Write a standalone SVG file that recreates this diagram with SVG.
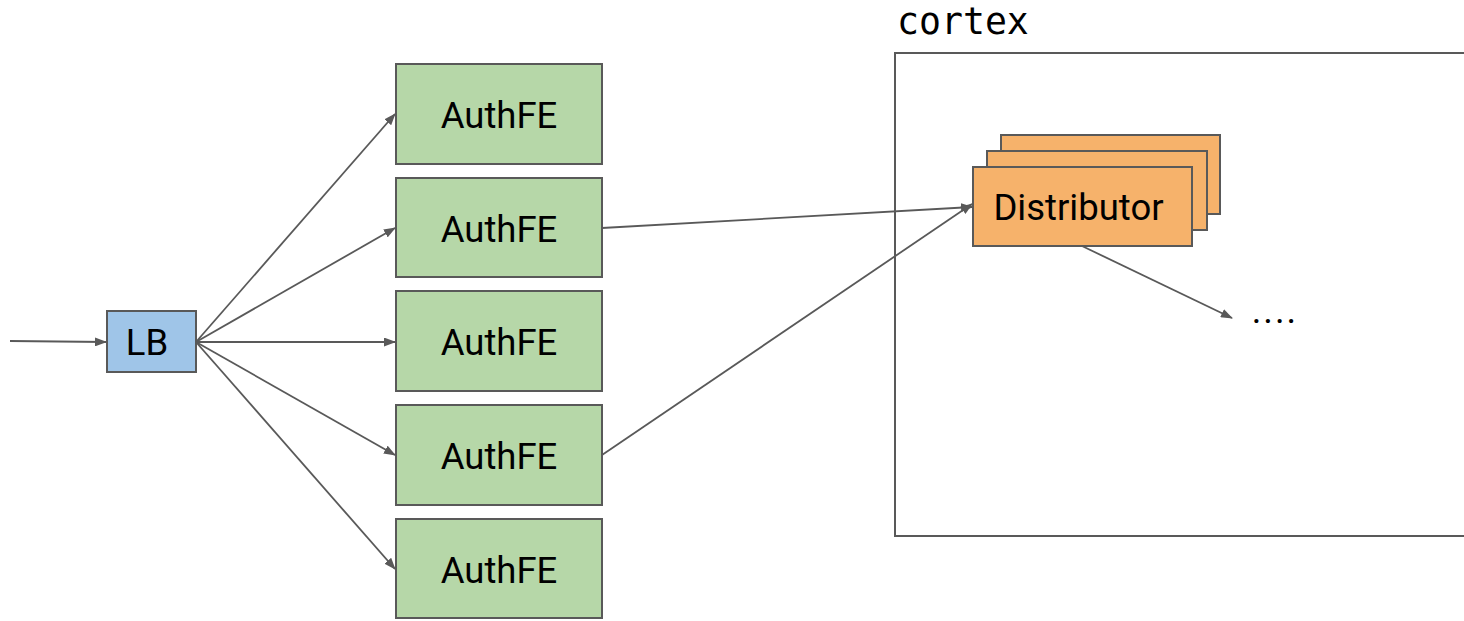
<svg xmlns="http://www.w3.org/2000/svg" width="1464" height="621" viewBox="0 0 1464 621">
<defs>
<style>
.box{stroke:#595959;stroke-width:2}
.fe{fill:#b6d7a8}
.lb{fill:#9fc5e8}
.dist{fill:#f6b26b}
.lbl{font-family:Roboto,"Liberation Sans",sans-serif;font-size:36.5px;fill:#000;text-anchor:middle}
.edge{stroke:#595959;stroke-width:1.8;fill:none;marker-end:url(#ah)}
</style>
<marker id="ah" viewBox="0 0 12 9" refX="11" refY="4.5" markerWidth="12" markerHeight="9" markerUnits="userSpaceOnUse" orient="auto">
<path d="M0,0 L12,4.5 L0,9 z" fill="#595959"/>
</marker>
</defs>
<rect width="1464" height="621" fill="#ffffff"/>
<g id="cortex">
<rect x="895" y="53" width="600" height="483" fill="none" stroke="#595959" stroke-width="2"/>
<text x="897" y="34" font-family="'DejaVu Sans Mono','Liberation Mono',monospace" font-size="36.5" fill="#000">cortex</text>
</g>
<g id="lb">
<rect class="box lb" x="107" y="311" width="89" height="61"/>
<text class="lbl" x="147" y="355">LB</text>
</g>
<g id="authfe1"><rect class="box fe" x="396" y="64" width="206" height="100"/><text class="lbl" x="499" y="128">AuthFE</text></g>
<g id="authfe2"><rect class="box fe" x="396" y="178" width="206" height="99"/><text class="lbl" x="499" y="242">AuthFE</text></g>
<g id="authfe3"><rect class="box fe" x="396" y="291" width="206" height="100"/><text class="lbl" x="499" y="355">AuthFE</text></g>
<g id="authfe4"><rect class="box fe" x="396" y="405" width="206" height="100"/><text class="lbl" x="499" y="469">AuthFE</text></g>
<g id="authfe5"><rect class="box fe" x="396" y="519" width="206" height="99"/><text class="lbl" x="499" y="583">AuthFE</text></g>
<g id="distributor">
<rect class="box dist" x="1001" y="135" width="219" height="79"/>
<rect class="box dist" x="987" y="151" width="220" height="79"/>
<rect class="box dist" x="973" y="167" width="219" height="79"/>
<text class="lbl" x="1078.5" y="220">Distributor</text>
</g>
<g id="more"><text class="lbl" x="1275" y="323" letter-spacing="2">....</text></g>
<g id="connectors">
<line class="edge" x1="10" y1="341" x2="106" y2="342"/>
<line class="edge" x1="196" y1="342" x2="395" y2="114"/>
<line class="edge" x1="196" y1="342" x2="395" y2="228"/>
<line class="edge" x1="196" y1="342" x2="395" y2="342"/>
<line class="edge" x1="196" y1="342" x2="395" y2="455"/>
<line class="edge" x1="196" y1="342" x2="395" y2="569"/>
<line class="edge" x1="602" y1="228" x2="972" y2="207"/>
<line class="edge" x1="602" y1="455" x2="972" y2="204"/>
<line class="edge" x1="1082" y1="246" x2="1232" y2="318"/>
</g>
</svg>
